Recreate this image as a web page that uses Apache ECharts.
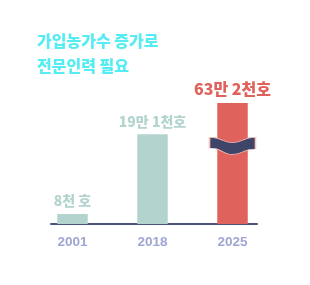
<!DOCTYPE html>
<html>
<head>
<meta charset="utf-8">
<script src="https://cdn.jsdelivr.net/npm/echarts@6/dist/echarts.min.js"></script>
<style>html,body{margin:0;padding:0;background:#fff;}#c{width:310px;height:285px;}</style>
</head>
<body>
<div id="c"></div>
<script>
var years = ['2001', '2018', '2025'];
var barValues = [8.3, 74.2, 100];
var barLabels = ['8천 호', '19만 1천호', '63만 2천호'];
var titleText = '가입농가수 증가로\n전문인력 필요';

var teal = '#b3d4ce', red = '#e0625d', navy = '#3e4568';
var FONT = '"Noto Sans CJK KR", "Noto Sans", sans-serif';

var chart = echarts.init(document.getElementById('c'), null, {renderer: 'canvas'});
var data = barValues.map(function (v, i) {
  var isLast = i === years.length - 1;
  return {
    value: [i, v],
    itemStyle: {color: isLast ? red : teal},
    label: {
      show: true, position: 'top', distance: 6,
      formatter: barLabels[i],
      fontFamily: FONT, fontWeight: 900,
      fontSize: isLast ? 16 : 14,
      color: isLast ? red : teal
    }
  };
});
chart.setOption({
  animation: false,
  title: {
    text: titleText, left: 37, top: 28, padding: 0,
    textStyle: {fontFamily: FONT, fontWeight: 900, fontSize: 16, lineHeight: 25, color: '#55ecf3'}
  },
  grid: {left: 51, right: 53, top: 103, bottom: 61, containLabel: false},
  xAxis: {
    type: 'value', min: -0.26875, max: 2.30625,
    splitLine: {show: false}, axisTick: {show: false},
    axisLine: {show: true, onZero: false, lineStyle: {color: '#4b5178', width: 2}},
    axisLabel: {
      show: true, customValues: [0, 1, 2], margin: 11,
      formatter: function (v) { return years[Math.round(v)]; },
      fontFamily: 'Liberation Sans, Arial, sans-serif', fontWeight: 'bold', fontSize: 13.5, color: '#a0a6d3'
    }
  },
  yAxis: {type: 'value', min: 0, max: 100, show: false, splitLine: {show: false}},
  series: [{
    type: 'bar', barWidth: 30.5, data: data,
    markPoint: {
      symbol: 'path://M0,1 C12,1 13,6 23,6 C33,6 34,1 46,1 L46,12 C34,12 33,17 23,17 C13,17 12,11 0,11 Z',
      symbolSize: [46, 17], symbolKeepAspect: false,
      itemStyle: {color: navy, borderColor: '#f6c3bf', borderWidth: 1},
      label: {show: false},
      data: [{coord: [2, 64.6]}]
    }
  }]
});
</script>
</body>
</html>
